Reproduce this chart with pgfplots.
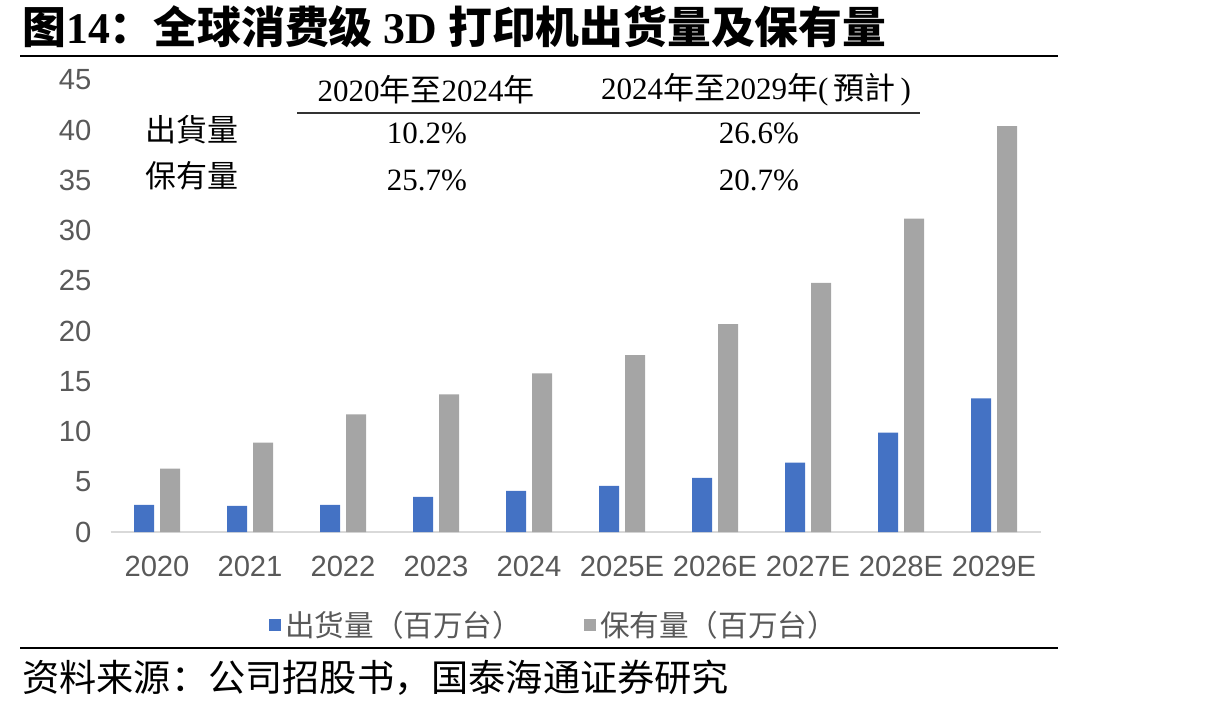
\documentclass[border=0pt]{standalone}
\usepackage{pgfplots}
\pgfplotsset{compat=1.18}
\usepackage{fontspec}
\setmainfont{Liberation Serif}
\newfontfamily\sans{Liberation Sans}
\newfontfamily\cjk{Noto Sans CJK SC}
\newfontfamily\cjktc{Noto Sans CJK TC}
\definecolor{cblue}{HTML}{4472C4}
\definecolor{cgray}{HTML}{A5A5A5}
\definecolor{tickc}{HTML}{595959}
\definecolor{axl}{HTML}{D9D9D9}
\begin{document}
\begin{tikzpicture}
\useasboundingbox (0,0) rectangle (607.5pt,-353.5pt);
\begin{axis}[
 at={(55.25pt,-266pt)}, anchor=south west,
 scale only axis, width=465pt, height=226pt,
 ybar=3pt, bar width=10pt,
 xmin=-0.5, xmax=9.5, ymin=0, ymax=45,
 xtick=data, xticklabels={2020,2021,2022,2023,2024,2025E,2026E,2027E,2028E,2029E},
 ytick={0,5,...,45},
 axis x line*=bottom, axis y line*=left,
 axis line style={draw=axl, line width=0.75pt, -},
 y axis line style={opacity=0},
 major tick length=0pt,
 ticklabel style={font=\sans\fontsize{14.6}{17}\selectfont, text=tickc},
 /pgf/number format/assume math mode=true,
 yticklabel style={xshift=-6pt},
 xticklabel style={yshift=-8.5pt},
 legend style={at={(0.478,-0.206)}, anchor=center, draw=none, fill=none, legend columns=2,
   font=\cjk\fontsize{14.8}{17}\selectfont, text=tickc,
   /tikz/every even column/.append style={column sep=29pt}},
 legend image code/.code={\fill[#1] (0pt,-3pt) rectangle (6pt,3pt);},
]
\addplot[fill=cblue, draw=none] coordinates {(0,2.7) (1,2.6) (2,2.7) (3,3.5) (4,4.1) (5,4.6) (6,5.4) (7,6.9) (8,9.9) (9,13.3)};
\addplot[fill=cgray, draw=none] coordinates {(0,6.3) (1,8.9) (2,11.7) (3,13.7) (4,15.8) (5,17.6) (6,20.7) (7,24.8) (8,31.2) (9,40.4)};
\legend{出货量（百万台）,保有量（百万台）}
\end{axis}
% title
\node[anchor=west, inner sep=0] at (11pt,-13.5pt) {\fontsize{21.9}{26}\selectfont\bfseries{\cjk 图}14{\cjk ：全球消费级} 3D {\cjk 打印机出货量及保有量}};
\draw[line width=1pt, black] (10pt,-28pt) -- (529pt,-28pt);
\draw[line width=1pt, black] (10pt,-324pt) -- (529pt,-324pt);
\node[anchor=west, inner sep=0] at (11pt,-339pt) {\cjk\fontsize{18.6}{22}\selectfont 资料来源：公司招股书，国泰海通证券研究};
% CAGR table
\begin{scope}[every node/.style={inner sep=0, font=\fontsize{15.5}{18}\selectfont}]
\node at (213pt,-45pt) {2020{\cjk 年至}2024{\cjk 年}};
\node at (378pt,-45pt) {2024{\cjk 年至}2029{\cjk 年}(\,{\cjktc 預計}\,)};
\draw[line width=0.9pt, black!80] (148.5pt,-56.5pt) -- (460pt,-56.5pt);
\node at (96pt,-65pt) {\cjktc 出貨量};
\node at (96pt,-88pt) {\cjktc 保有量};
\node at (213.5pt,-66.5pt) {10.2\%};
\node at (213.5pt,-90pt) {25.7\%};
\node at (379.5pt,-66.5pt) {26.6\%};
\node at (379.5pt,-90pt) {20.7\%};
\end{scope}
\end{tikzpicture}
\end{document}
